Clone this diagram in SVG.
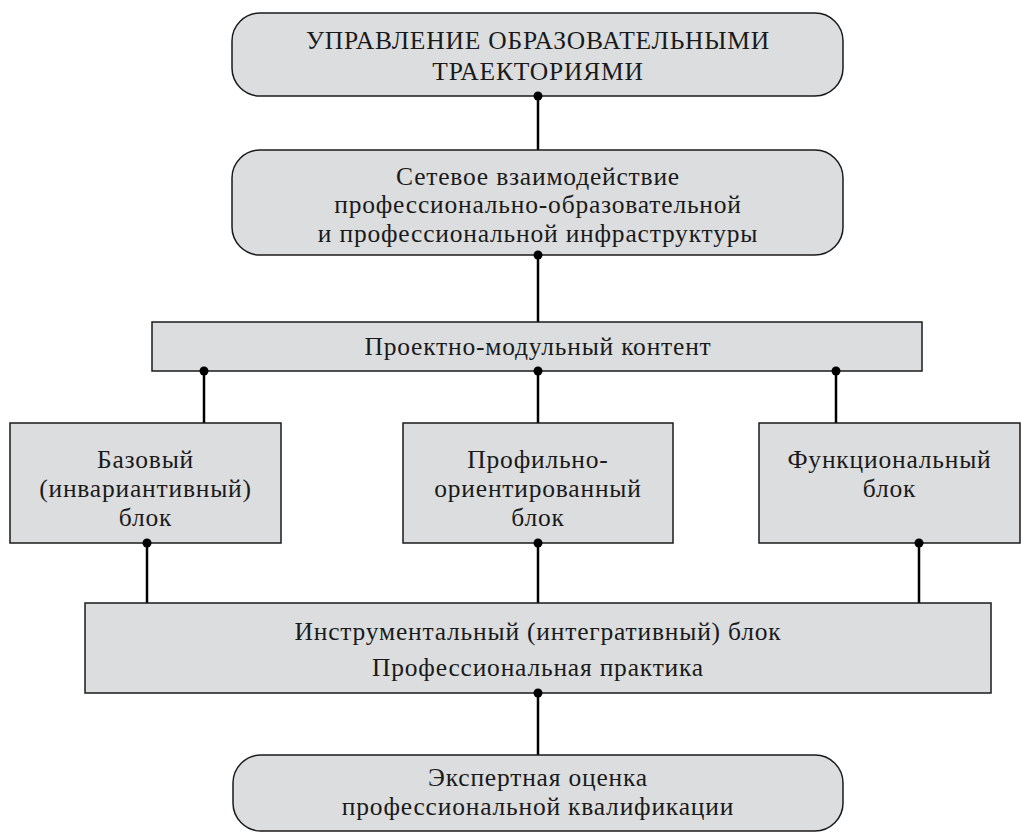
<svg xmlns="http://www.w3.org/2000/svg" width="1022" height="833" viewBox="0 0 1022 833">
<defs>
<style>
.box{fill:#dcdddf;stroke:#1a1a1a;stroke-width:1.5}
.t{font-family:"Liberation Serif","DejaVu Serif",serif;font-size:25.5px;letter-spacing:0.8px;fill:#1a1a1a;text-anchor:middle}
.ln{stroke:#000;stroke-width:2.5;fill:none}
.dot{fill:#000}
</style>
</defs>
<rect width="1022" height="833" fill="#fff"/>
<g id="connectors">
<line class="ln" x1="538" y1="96" x2="538" y2="150"/>
<line class="ln" x1="538" y1="255" x2="538" y2="322"/>
<line class="ln" x1="204" y1="371" x2="204" y2="423"/>
<line class="ln" x1="538" y1="371" x2="538" y2="423"/>
<line class="ln" x1="836" y1="371" x2="836" y2="423"/>
<line class="ln" x1="147" y1="543" x2="147" y2="603"/>
<line class="ln" x1="538" y1="543" x2="538" y2="603"/>
<line class="ln" x1="919" y1="543" x2="919" y2="603"/>
<line class="ln" x1="538" y1="693" x2="538" y2="755"/>
</g>
<g id="n1">
<rect class="box" x="232" y="13" width="611" height="83" rx="28"/>
<text class="t" x="538" y="49">УПРАВЛЕНИЕ ОБРАЗОВАТЕЛЬНЫМИ</text>
<text class="t" x="538" y="80">ТРАЕКТОРИЯМИ</text>
</g>
<g id="n2">
<rect class="box" x="232" y="150" width="611" height="105" rx="28"/>
<text class="t" x="538" y="185">Сетевое взаимодействие</text>
<text class="t" x="538" y="213.3">профессионально-образовательной</text>
<text class="t" x="538" y="241.6">и профессиональной инфраструктуры</text>
</g>
<g id="n3">
<rect class="box" x="152" y="322" width="770" height="49"/>
<text class="t" x="538" y="355">Проектно-модульный контент</text>
</g>
<g id="n4">
<rect class="box" x="10" y="423" width="271" height="120"/>
<text class="t" x="145.5" y="468">Базовый</text>
<text class="t" x="145.5" y="497">(инвариантивный)</text>
<text class="t" x="145.5" y="526">блок</text>
</g>
<g id="n5">
<rect class="box" x="403" y="423" width="270" height="120"/>
<text class="t" x="538" y="468">Профильно-</text>
<text class="t" x="538" y="497">ориентированный</text>
<text class="t" x="538" y="526">блок</text>
</g>
<g id="n6">
<rect class="box" x="759" y="423" width="261" height="120"/>
<text class="t" x="889.5" y="468">Функциональный</text>
<text class="t" x="889.5" y="497">блок</text>
</g>
<g id="n7">
<rect class="box" x="85" y="603" width="906" height="90"/>
<text class="t" x="538" y="640">Инструментальный (интегративный) блок</text>
<text class="t" x="538" y="676">Профессиональная практика</text>
</g>
<g id="n8">
<rect class="box" x="233" y="755" width="610" height="76" rx="28"/>
<text class="t" x="538" y="786">Экспертная оценка</text>
<text class="t" x="538" y="815">профессиональной квалификации</text>
</g>
<g id="dots">
<circle class="dot" cx="538" cy="96" r="4.5"/>
<circle class="dot" cx="538" cy="255" r="4.5"/>
<circle class="dot" cx="204" cy="371" r="4.5"/>
<circle class="dot" cx="538" cy="371" r="4.5"/>
<circle class="dot" cx="836" cy="371" r="4.5"/>
<circle class="dot" cx="147" cy="543" r="4.5"/>
<circle class="dot" cx="538" cy="543" r="4.5"/>
<circle class="dot" cx="919" cy="543" r="4.5"/>
<circle class="dot" cx="538" cy="693" r="4.5"/>
</g>
</svg>
